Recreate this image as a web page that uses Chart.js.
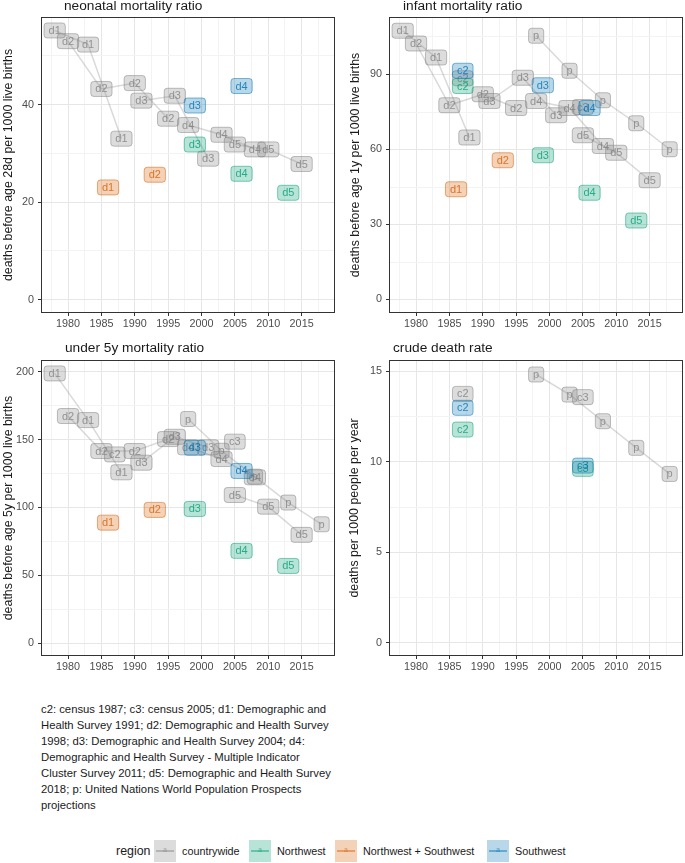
<!DOCTYPE html>
<html>
<head>
<meta charset="utf-8">
<script src="https://cdn.jsdelivr.net/npm/chart.js@4.4.1/dist/chart.umd.min.js"></script>
<style>
  body { margin: 0; background: #fff; font-family: "Liberation Sans", Arial, sans-serif; }
  #page { position: relative; width: 685px; height: 863px; overflow: hidden; background: #fff; }
  canvas { position: absolute; }
  .ptitle { position: absolute; font-size: 13.7px; line-height: 16px; color: #1a1a1a; white-space: nowrap; }
  #caption { position: absolute; left: 41px; top: 701px; font-size: 11.3px; line-height: 16px; color: #1a1a1a; white-space: nowrap; }
  .lg { position: absolute; top: 840px; height: 22px; line-height: 22px; color: #1a1a1a; white-space: nowrap; }
  .key { position: absolute; top: 840px; width: 22px; height: 22px; }
  .key i { position: absolute; left: 2px; right: 2px; top: 10px; height: 1.5px; }
  .key b { position: absolute; left: 0; right: 0; top: 5px; font-size: 7px; line-height: 10px; text-align: center; font-weight: normal; }
</style>
</head>
<body>
<div id="page">
  <canvas id="neo" width="340" height="330" style="left:0;top:0"></canvas>
  <canvas id="inf" width="345" height="330" style="left:340px;top:0"></canvas>
  <canvas id="u5" width="340" height="345" style="left:0;top:330px"></canvas>
  <canvas id="cdr" width="345" height="345" style="left:340px;top:330px"></canvas>
  <div class="ptitle" style="left:64px;top:-2px">neonatal mortality ratio</div>
  <div class="ptitle" style="left:403px;top:-2px">infant mortality ratio</div>
  <div class="ptitle" style="left:65px;top:340px">under 5y mortality ratio</div>
  <div class="ptitle" style="left:393px;top:340px">crude death rate</div>
  <div id="caption">c2: census 1987; c3: census 2005; d1: Demographic and<br>Health Survey 1991; d2: Demographic and Health Survey<br>1998; d3: Demographic and Health Survey 2004; d4:<br>Demographic and Health Survey - Multiple Indicator<br>Cluster Survey 2011; d5: Demographic and Health Survey<br>2018; p: United Nations World Population Prospects<br>projections</div>
  <div id="legend"></div>
</div>
<script>
// years (mid-points) of the estimates of each source
const yearsD1 = [1978, 1983, 1988];
const yearsD2 = [1980, 1985, 1990, 1995];
const yearsD3 = [1991, 1996, 2001];
const yearsD4 = [1998, 2003, 2008];
const yearsD5 = [2005, 2010, 2015];
const yearsP  = [1998, 2003, 2008, 2013, 2018];
const censusSources = ['c2', 'c3'];
const censusYears   = [1987, 2005];
const regionSources = ['c2', 'c3', 'd1', 'd2', 'd3', 'd4', 'd5'];
const regionYears   = [1987, 2005, 1986, 1993, 1999, 2006, 2013];
const regionNames   = ['countrywide', 'Northwest', 'Northwest + Southwest', 'Southwest'];

// neonatal mortality ratio
const neoD1 = [55.2, 52.3, 33.0];
const neoD2 = [53.0, 43.2, 44.4, 37.1];
const neoD3 = [40.8, 41.8, 28.9];
const neoD4 = [35.8, 33.8, 30.8];
const neoD5 = [31.8, 30.8, 27.8];
const neoP  = [];
const neoCensus    = [null, null];
const neoNorthwest = [null, null, null, null, 31.8, 25.8, 21.9];
const neoNwSw      = [null, null, 23.0, 25.6, null, null, null];
const neoSouthwest = [null, null, null, null, 39.8, 43.8, null];

// infant mortality ratio
const infD1 = [107.5, 96.8, 64.8];
const infD2 = [102.4, 77.7, 82.1, 76.6];
const infD3 = [79.4, 88.7, 73.7];
const infD4 = [79.4, 76.6, 61.4];
const infD5 = [65.7, 58.7, 47.7];
const infP  = [105.5, 91.5, 79.7, 70.5, 60.1];
const infCensus    = [88.5, 77.0];
const infNorthwest = [85.4, null, null, null, 57.7, 42.7, 31.6];
const infNwSw      = [null, null, 44.1, 55.7, null, null, null];
const infSouthwest = [91.5, null, null, null, 85.7, 76.6, null];

// under 5y mortality ratio
const u5D1 = [198.8, 164.4, 125.9];
const u5D2 = [167.4, 141.6, 141.6, 150.4];
const u5D3 = [133.0, 152.1, 144.3];
const u5D4 = [144.3, 135.7, 122.2];
const u5D5 = [109.2, 100.6, 79.8];
const u5P  = [165.2, 141.8, 122.7, 103.6, 87.6];
const u5Census    = [139.1, 148.5];
const u5Northwest = [null, null, null, null, 98.9, 68.0, 56.9];
const u5NwSw      = [null, null, 88.8, 98.2, null, null, null];
const u5Southwest = [null, null, null, null, 144.0, 126.9, null];

// crude death rate
const cdrP = [14.82, 13.71, 12.24, 10.77, 9.33];
const cdrCensus    = [13.75, 13.57];
const cdrNorthwest = [11.78, 9.61, null, null, null, null, null];
const cdrNwSw      = [null, null, null, null, null, null, null];
const cdrSouthwest = [12.98, 9.79, null, null, null, null, null];

// ticks
const xMajorTicks = [1980, 1985, 1990, 1995, 2000, 2005, 2010, 2015];
const xMinorTicks = [1977.5, 1982.5, 1987.5, 1992.5, 1997.5, 2002.5, 2007.5, 2012.5, 2017.5];
const neoMajor = [0, 20, 40];          const neoMinor = [10, 30, 50];
const infMajor = [0, 30, 60, 90];      const infMinor = [15, 45, 75, 105];
const u5Major  = [0, 50, 100, 150, 200]; const u5Minor = [25, 75, 125, 175];
const cdrMajor = [0, 5, 10, 15];       const cdrMinor = [2.5, 7.5, 12.5];

const FONT = '"Liberation Sans", Arial, sans-serif';
const regionRgb = ['128,128,128', '0,158,115', '213,94,0', '0,114,178'];
const lineGrey = 'rgba(128,128,128,0.3)';

// label boxes (like geom_label) drawn at the points the scales give us, plus the panel frame
const labelPlugin = {
  id: 'sourceLabels',
  afterDatasetsDraw(chart) {
    const ctx = chart.ctx;
    ctx.save();
    ctx.font = '11px ' + FONT;
    ctx.textAlign = 'center';
    ctx.textBaseline = 'middle';
    chart.data.datasets.forEach((ds, i) => {
      const rgb = regionRgb[ds.region];
      const meta = chart.getDatasetMeta(i);
      meta.data.forEach((pt, j) => {
        const txt = ds.data[j].code;
        const w = ctx.measureText(txt).width + 9;
        const h = 15;
        ctx.beginPath();
        ctx.roundRect(pt.x - w / 2, pt.y - h / 2, w, h, 3);
        ctx.fillStyle = 'rgba(' + rgb + ',0.28)';
        ctx.fill();
        ctx.strokeStyle = 'rgba(' + rgb + ',0.5)';
        ctx.lineWidth = 1;
        ctx.stroke();
        ctx.fillStyle = 'rgba(' + rgb + ',0.8)';
        ctx.fillText(txt, pt.x, pt.y + 0.5);
      });
    });
    // panel border
    const { left, right, top, bottom } = chart.chartArea;
    ctx.strokeStyle = '#333333';
    ctx.lineWidth = 1;
    ctx.strokeRect(left + 0.5, top + 0.5, right - left - 1, bottom - top - 1);
    ctx.restore();
  }
};

function pointsOf(years, values, codes) {
  const pts = [];
  years.forEach((yr, i) => {
    if (values[i] !== null && values[i] !== undefined) {
      pts.push({ x: yr, y: values[i], code: Array.isArray(codes) ? codes[i] : codes });
    }
  });
  return pts;
}

function panelDatasets(d1, d2, d3, d4, d5, p, census, nw, nwsw, sw) {
  const sets = [];
  [[yearsD1, d1, 'd1'], [yearsD2, d2, 'd2'], [yearsD3, d3, 'd3'],
   [yearsD4, d4, 'd4'], [yearsD5, d5, 'd5'], [yearsP, p, 'p']].forEach(([yrs, vals, code]) => {
    if (!vals.length) return;
    sets.push({ data: pointsOf(yrs, vals, code), showLine: true, borderColor: lineGrey,
                borderWidth: 1.5, pointRadius: 0, region: 0 });
  });
  sets.push({ data: pointsOf(censusYears, census, censusSources), showLine: false, pointRadius: 0, region: 0 });
  [nw, nwsw, sw].forEach((vals, k) => {
    sets.push({ data: pointsOf(regionYears, vals, regionSources), showLine: false, pointRadius: 0, region: k + 1 });
  });
  return sets;
}

function axisGrid(major) {
  return {
    color: c => (c.tick && major.includes(c.tick.value)) ? '#e6e6e6' : '#f3f3f3',
    lineWidth: 1,
    tickLength: 3,
    tickWidth: 1,
    tickColor: c => (c.tick && major.includes(c.tick.value)) ? '#333333' : 'rgba(0,0,0,0)'
  };
}

function makePanel(id, cfg) {
  const xAll = xMinorTicks.concat(xMajorTicks).sort((a, b) => a - b);
  const yAll = cfg.yMinor.concat(cfg.yMajor).sort((a, b) => a - b);
  return new Chart(document.getElementById(id), {
    type: 'scatter',
    data: { datasets: cfg.datasets },
    options: {
      responsive: false,
      animation: false,
      devicePixelRatio: 1,
      layout: { padding: cfg.padding },
      plugins: { legend: { display: false }, tooltip: { enabled: false } },
      elements: { point: { radius: 0, hoverRadius: 0 } },
      scales: {
        x: {
          type: 'linear', bounds: 'data', min: 1975.95, max: 2020.0,
          afterBuildTicks: s => { s.ticks = xAll.map(v => ({ value: v })); },
          afterFit: s => { s.height = cfg.xHeight; },
          grid: axisGrid(xMajorTicks),
          border: { display: false },
          ticks: {
            autoSkip: false, maxRotation: 0, minRotation: 0, padding: 2,
            color: '#4d4d4d', font: { family: FONT, size: 10.8 },
            callback: v => xMajorTicks.includes(v) ? String(v) : ''
          }
        },
        y: {
          type: 'linear', bounds: 'data', min: cfg.yMin, max: cfg.yMax,
          afterBuildTicks: s => { s.ticks = yAll.map(v => ({ value: v })); },
          afterFit: s => { s.width = cfg.yWidth; },
          grid: axisGrid(cfg.yMajor),
          border: { display: false },
          ticks: {
            autoSkip: false, padding: 4,
            color: '#4d4d4d', font: { family: FONT, size: 10.8 },
            callback: v => cfg.yMajor.includes(v) ? String(v) : ''
          },
          title: {
            display: true, text: cfg.yTitle, color: '#1a1a1a',
            font: { family: FONT, size: 12.4 }, padding: { top: cfg.titlePad, bottom: 0 }
          }
        }
      }
    },
    plugins: [labelPlugin]
  });
}

makePanel('neo', {
  datasets: panelDatasets(neoD1, neoD2, neoD3, neoD4, neoD5, neoP, neoCensus, neoNorthwest, neoNwSw, neoSouthwest),
  yMin: -2.76, yMax: 57.96, yMajor: neoMajor, yMinor: neoMinor,
  yTitle: 'deaths before age 28d per 1000 live births',
  padding: { left: 0, top: 17, right: 5, bottom: 0 }, yWidth: 41, xHeight: 17, titlePad: 1
});
makePanel('inf', {
  datasets: panelDatasets(infD1, infD2, infD3, infD4, infD5, infP, infCensus, infNorthwest, infNwSw, infSouthwest),
  yMin: -5.4, yMax: 113.0, yMajor: infMajor, yMinor: infMinor,
  yTitle: 'deaths before age 1y per 1000 live births',
  padding: { left: 0, top: 17, right: 2, bottom: 0 }, yWidth: 49, xHeight: 17, titlePad: 8.5
});
makePanel('u5', {
  datasets: panelDatasets(u5D1, u5D2, u5D3, u5D4, u5D5, u5P, u5Census, u5Northwest, u5NwSw, u5Southwest),
  yMin: -9.5, yMax: 208.7, yMajor: u5Major, yMinor: u5Minor,
  yTitle: 'deaths before age 5y per 1000 live births',
  padding: { left: 0, top: 30, right: 5, bottom: 0 }, yWidth: 41, xHeight: 19, titlePad: 1
});
makePanel('cdr', {
  datasets: panelDatasets([], [], [], [], [], cdrP, cdrCensus, cdrNorthwest, cdrNwSw, cdrSouthwest),
  yMin: -0.72, yMax: 15.62, yMajor: cdrMajor, yMinor: cdrMinor,
  yTitle: 'deaths per 1000 people per year',
  padding: { left: 0, top: 30, right: 2, bottom: 0 }, yWidth: 49, xHeight: 19, titlePad: 7.5
});

// legend
const legend = document.getElementById('legend');
const keyLefts = [154, 249, 335, 487];
let html = '<div class="lg" style="left:116px;font-size:12.4px">region</div>';
regionNames.forEach((name, k) => {
  const rgb = regionRgb[k];
  html += '<div class="key" style="left:' + keyLefts[k] + 'px;background:rgba(' + rgb + ',0.28)">' +
          '<i style="background:rgba(' + rgb + ',0.45)"></i><b style="color:rgba(' + rgb + ',0.6)">a</b></div>';
  html += '<div class="lg" style="left:' + (keyLefts[k] + 28) + 'px;font-size:10.8px">' + name + '</div>';
});
legend.innerHTML = html;
</script>
</body>
</html>
